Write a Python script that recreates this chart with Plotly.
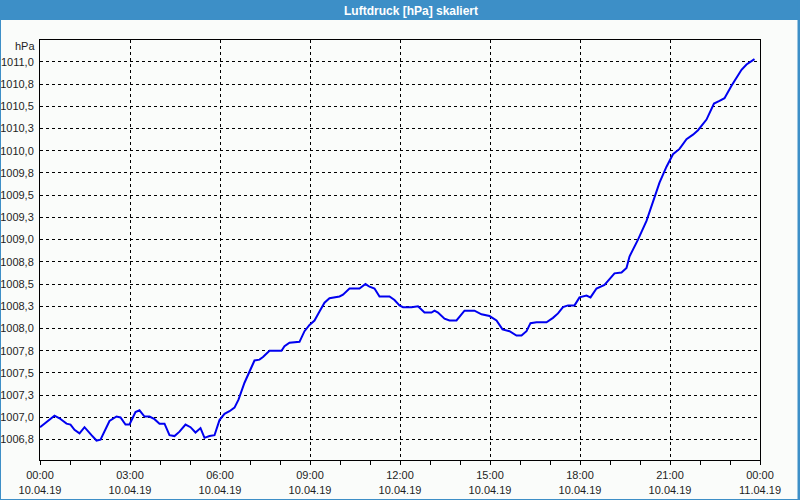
import plotly.graph_objects as go
from datetime import datetime, timedelta

# ---- data ----
times = [
    "00:00", "00:29", "00:39", "00:53", "01:01", "01:09", "01:19", "01:29", "01:43", "01:53",
    "02:01", "02:19", "02:33", "02:41", "02:51", "02:59", "03:11", "03:19", "03:29", "03:39",
    "03:49", "03:59", "04:09", "04:19", "04:29", "04:39", "04:51", "05:01", "05:11", "05:21",
    "05:29", "05:39", "05:49", "05:59", "06:09", "06:19", "06:29", "06:37", "06:49", "06:59",
    "07:09", "07:19", "07:26", "07:39", "08:03", "08:09", "08:19", "08:39", "08:49", "08:59",
    "09:09", "09:19", "09:29", "09:39", "09:59", "10:06", "10:19", "10:39", "10:51", "10:59",
    "11:09", "11:19", "11:39", "11:49", "11:59", "12:06", "12:23", "12:36", "12:49", "13:03",
    "13:09", "13:16", "13:29", "13:39", "13:53", "14:09", "14:19", "14:29", "14:43", "14:59",
    "15:13", "15:25", "15:39", "15:53", "16:03", "16:13", "16:21", "16:33", "16:53", "17:06",
    "17:16", "17:26", "17:36", "17:49", "17:59", "18:13", "18:21", "18:33", "18:49", "19:09",
    "19:23", "19:33", "19:39", "19:56", "20:13", "20:23", "20:31", "20:39", "20:53", "21:06",
    "21:19", "21:33", "21:46", "21:56", "22:13", "22:28", "22:39", "22:49", "23:03", "23:13",
    "23:23", "23:33", "23:43", "23:49",
]
pressure = [
    1006.89, 1007.02, 1006.99, 1006.93, 1006.92, 1006.86, 1006.82, 1006.89, 1006.80, 1006.74,
    1006.75, 1006.96, 1007.01, 1007.00, 1006.92, 1006.92, 1007.06, 1007.08, 1007.01, 1007.01,
    1006.98, 1006.93, 1006.93, 1006.80, 1006.79, 1006.84, 1006.92, 1006.89, 1006.83, 1006.88,
    1006.77, 1006.79, 1006.80, 1006.97, 1007.04, 1007.07, 1007.11, 1007.20, 1007.39, 1007.52,
    1007.64, 1007.65, 1007.68, 1007.75, 1007.75, 1007.80, 1007.84, 1007.85, 1007.97, 1008.04,
    1008.09, 1008.19, 1008.29, 1008.34, 1008.36, 1008.38, 1008.45, 1008.45, 1008.50, 1008.47,
    1008.45, 1008.36, 1008.36, 1008.32, 1008.26, 1008.24, 1008.24, 1008.25, 1008.18, 1008.18,
    1008.20, 1008.18, 1008.11, 1008.09, 1008.09, 1008.20, 1008.20, 1008.20, 1008.16, 1008.14,
    1008.09, 1007.99, 1007.97, 1007.92, 1007.92, 1007.97, 1008.06, 1008.07, 1008.07, 1008.12,
    1008.17, 1008.24, 1008.26, 1008.26, 1008.35, 1008.37, 1008.35, 1008.45, 1008.49, 1008.62,
    1008.63, 1008.68, 1008.81, 1009.00, 1009.21, 1009.37, 1009.51, 1009.64, 1009.82, 1009.96,
    1010.02, 1010.13, 1010.18, 1010.23, 1010.35, 1010.53, 1010.56, 1010.59, 1010.73, 1010.82,
    1010.91, 1010.97, 1011.01, 1011.03,
]
day = "2019-04-10"
title_text = "Luftdruck [hPa] skaliert"
unit_label = "hPa"

x = [datetime.strptime(day + " " + t, "%Y-%m-%d %H:%M") for t in times]
x_start = datetime.strptime(day, "%Y-%m-%d")
x_end = x_start + timedelta(days=1)

# ---- layout geometry (pixels) ----
W, H = 800, 500
L, R, T, B = 40, 40, 40, 40
PW, PH = W - L - R, H - T - B


def px2x(px):
    return (px - L) / PW


def py2y(py):
    return (H - B - py) / PH


FONT = "Liberation Sans"
BG = "#fafcfa"
BLUE = "#3d8fc7"
TXT = "#1e1e1e"

fig = go.Figure()
fig.add_trace(go.Scatter(
    x=x, y=pressure, mode="lines",
    line=dict(color="#0000f0", width=2),
    showlegend=False, hoverinfo="skip",
))

shapes = [
    # title bar
    dict(type="rect", xref="paper", yref="paper", layer="below",
         x0=px2x(0), x1=px2x(W), y0=py2y(20), y1=py2y(0),
         fillcolor=BLUE, line=dict(width=0)),
    # window borders
    dict(type="rect", xref="paper", yref="paper",
         x0=px2x(0), x1=px2x(1), y0=py2y(H), y1=py2y(0),
         fillcolor=BLUE, line=dict(width=0)),
    dict(type="rect", xref="paper", yref="paper",
         x0=px2x(W - 2.5), x1=px2x(W), y0=py2y(H), y1=py2y(0),
         fillcolor=BLUE, line=dict(width=0)),
    dict(type="rect", xref="paper", yref="paper",
         x0=px2x(0), x1=px2x(W), y0=py2y(H), y1=py2y(H - 1),
         fillcolor=BLUE, line=dict(width=0)),
]

fig.update_layout(
    width=W, height=H,
    margin=dict(l=L, r=R, t=T, b=B, autoexpand=False),
    paper_bgcolor=BG, plot_bgcolor=BG,
    separators=",.",
    font=dict(family=FONT, size=11, color=TXT),
    title=dict(text="<b>" + title_text + "</b>", x=411 / W, xanchor="center",
               y=1 - 10.5 / H, yanchor="middle",
               font=dict(family=FONT, size=12, color="white")),
    shapes=shapes,
    annotations=[dict(text=unit_label, xref="paper", yref="paper",
                      x=px2x(37), y=py2y(46), xanchor="right", yanchor="middle",
                      showarrow=False, font=dict(family=FONT, size=11, color=TXT))],
)

fig.update_xaxes(
    type="date", range=[x_start, x_end], automargin=False,
    tick0=x_start, dtick=3 * 3600000,
    tickformat="%H:%M<br>%d.%m.%y",
    ticks="outside", ticklen=4, tickcolor="black", tickwidth=1,
    minor=dict(dtick=3600000, ticks="outside", ticklen=4, tickcolor="black", showgrid=False),
    showline=True, linecolor="black", linewidth=1, mirror=True,
    showgrid=True, gridcolor="black", gridwidth=1, griddash="3px,3px",
    zeroline=False, ticklabelstandoff=1, tickfont=dict(family=FONT, size=11, color=TXT),
)
fig.update_yaxes(
    range=[1006.521, 1011.245], automargin=False,
    tick0=1006.5, dtick=0.25, tickformat=".1f",
    ticks="", ticklabelstandoff=3,
    showline=True, linecolor="black", linewidth=1, mirror=True,
    showgrid=True, gridcolor="black", gridwidth=1, griddash="3px,3px",
    zeroline=False, tickfont=dict(family=FONT, size=11, color=TXT),
)

fig.write_html(
    "out.html",
    config={"displayModeBar": False},
    post_script="document.body.style.margin='0';document.body.style.overflow='hidden';",
)
